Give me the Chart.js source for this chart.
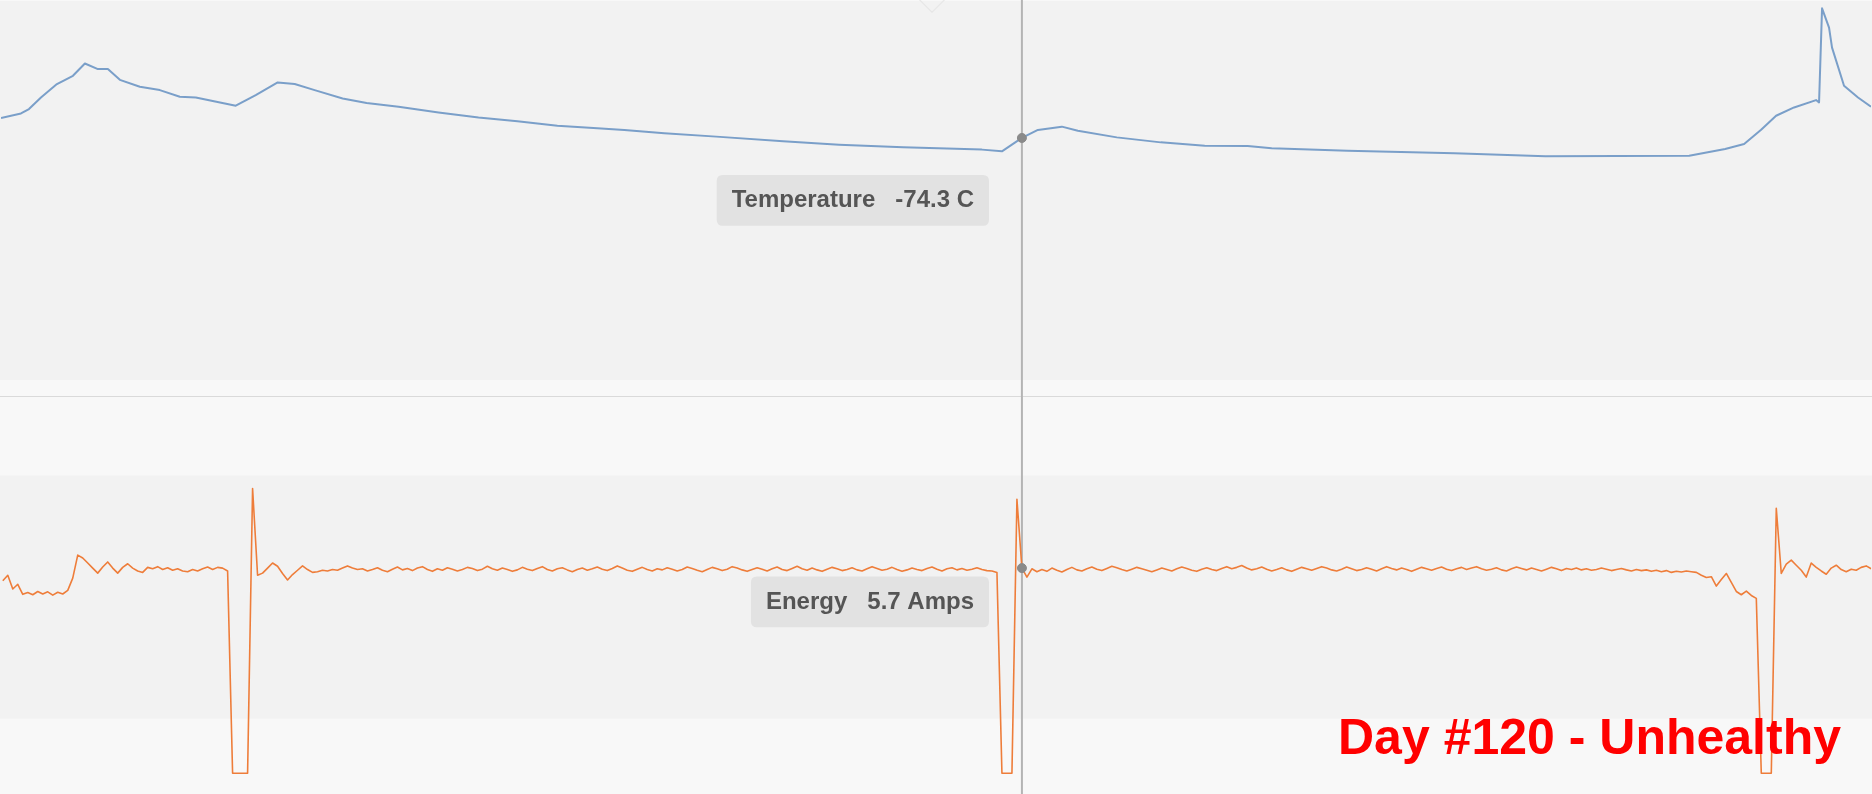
<!DOCTYPE html>
<html>
<head>
<meta charset="utf-8">
<title>Day #120 - Unhealthy</title>
<script src="https://cdn.jsdelivr.net/npm/chart.js@4.4.1/dist/chart.umd.min.js"></script>
<style>
    html, body { margin: 0; padding: 0; background: #f8f8f8; overflow: hidden; }
    #stage { position: relative; width: 1872px; height: 794px; }
    #tempCanvas { position: absolute; left: 0; top: 0; }
    #energyCanvas { position: absolute; left: 0; top: 397px; }
    .divider { position: absolute; left: 0; top: 396px; width: 1872px; height: 1px; background: #dadada; }
    .handle { position: absolute; left: 920px; top: -16px; width: 22px; height: 22px;
              border: 1px solid #e4e4e4; transform: rotate(45deg); }
    .verdict { position: absolute; right: 31px; top: 712px; color: #ff0000; white-space: nowrap;
               font: bold 50px/50px "Liberation Sans", Arial, sans-serif; }
</style>
</head>
<body>
<div id="stage">
    <div class="divider"></div>
    <canvas id="tempCanvas" width="1872" height="397"></canvas>
    <canvas id="energyCanvas" width="1872" height="397"></canvas>
    <div class="handle"></div>
    <div class="verdict">Day #120 - Unhealthy</div>
</div>
<script>
// Time (minutes into the window) where the cursor sits
const cursorTime = 1022;

// Temperature trace (C)
const tempTimes = [0, 20, 28, 40, 56, 72, 84, 97, 107, 119,
    139, 159, 179, 195, 235, 255, 277, 294, 314, 342,
    366, 398, 438, 478, 517, 557, 597, 624, 664, 716,
    783, 839, 903, 982, 1002, 1022, 1038, 1062, 1078, 1117,
    1161, 1205, 1248, 1272, 1348, 1455, 1546, 1690, 1726, 1745,
    1762, 1777, 1795, 1817, 1820, 1823, 1830, 1833, 1845, 1859,
    1872];
const tempValues = [-72.18, -71.70, -71.23, -70.00, -68.58, -67.70, -66.40, -66.99, -66.99, -68.13,
    -68.87, -69.22, -69.93, -70.00, -70.88, -69.75, -68.41, -68.58, -69.22, -70.11,
    -70.60, -70.99, -71.59, -72.12, -72.54, -73.00, -73.28, -73.45, -73.81, -74.16,
    -74.66, -75.01, -75.30, -75.54, -75.72, -74.30, -73.45, -73.10, -73.53, -74.24,
    -74.77, -75.12, -75.15, -75.40, -75.65, -75.93, -76.25, -76.18, -75.47, -74.94,
    -73.42, -71.94, -71.06, -70.28, -70.53, -60.54, -62.59, -64.71, -68.76, -70.00,
    -70.99];

// Energy trace (Amps), one reading every 5 minutes starting at minute 2
const energyStart = 2;
const energyStep = 5;
const energyAmps = [
    5.35, 5.50, 5.12, 5.25, 4.97, 5.02, 4.96, 5.05, 4.98, 5.04,
    4.95, 5.03, 4.98, 5.08, 5.42, 6.06, 5.98, 5.84, 5.70, 5.56,
    5.73, 5.87, 5.70, 5.56, 5.72, 5.82, 5.70, 5.62, 5.58, 5.72,
    5.68, 5.74, 5.66, 5.71, 5.64, 5.68, 5.62, 5.60, 5.66, 5.62,
    5.68, 5.73, 5.66, 5.72, 5.70, 5.62, 0, 0, 0, 0,
    7.91, 5.50, 5.56, 5.70, 5.84, 5.75, 5.55, 5.37, 5.52, 5.64,
    5.76, 5.66, 5.58, 5.60, 5.64, 5.62, 5.66, 5.64, 5.70, 5.76,
    5.70, 5.66,
    5.68, 5.62, 5.66, 5.71, 5.64, 5.60, 5.67, 5.73, 5.65, 5.69,
    5.63, 5.70, 5.74, 5.66, 5.61, 5.68, 5.64, 5.71, 5.67, 5.62,
    5.66, 5.72, 5.69, 5.63, 5.67, 5.75, 5.68, 5.64, 5.70, 5.66,
    5.61, 5.65, 5.72, 5.67, 5.63, 5.69, 5.74, 5.66, 5.62, 5.68,
    5.71, 5.65, 5.60, 5.66, 5.70, 5.64, 5.68, 5.73, 5.67, 5.63,
    5.69, 5.76, 5.70, 5.64, 5.61, 5.67, 5.72, 5.66, 5.62, 5.68,
    5.65, 5.71, 5.67, 5.62, 5.66, 5.73, 5.69, 5.64, 5.60, 5.66,
    5.72, 5.68, 5.63, 5.67, 5.74, 5.70, 5.65, 5.61, 5.66, 5.71,
    5.67, 5.62, 5.68, 5.73, 5.66, 5.63, 5.69, 5.75, 5.68, 5.64,
    5.70, 5.65, 5.61, 5.67, 5.72, 5.68, 5.63, 5.66, 5.71, 5.65,
    5.62, 5.68, 5.74, 5.69, 5.64, 5.67, 5.72, 5.66, 5.61, 5.65,
    5.70, 5.66, 5.63, 5.69, 5.73, 5.67, 5.62, 5.68, 5.71, 5.65,
    5.69, 5.64, 5.67, 5.71, 5.66, 5.63, 5.62,
    5.58, 0, 0, 0, 7.61, 5.70, 5.45, 5.68, 5.60,
    5.66, 5.61, 5.70, 5.64, 5.59, 5.66, 5.72, 5.65, 5.62, 5.68,
    5.73, 5.67, 5.63, 5.69, 5.75, 5.71, 5.66, 5.62, 5.67, 5.72,
    5.68, 5.64, 5.60, 5.65, 5.70, 5.66, 5.62, 5.68, 5.73, 5.69,
    5.64, 5.61, 5.67, 5.71, 5.66, 5.63, 5.69, 5.74, 5.68, 5.72,
    5.77, 5.70, 5.65, 5.68, 5.73, 5.67, 5.62, 5.66, 5.71, 5.65,
    5.61, 5.67, 5.72, 5.68, 5.64, 5.69, 5.74, 5.70, 5.65, 5.62,
    5.67, 5.73, 5.68, 5.63, 5.66, 5.71, 5.67, 5.62, 5.68, 5.74,
    5.69, 5.65, 5.70, 5.66, 5.61, 5.67, 5.72, 5.68, 5.64, 5.69,
    5.73, 5.67, 5.63, 5.68, 5.72, 5.66, 5.70, 5.74, 5.68, 5.64,
    5.67, 5.71, 5.65, 5.62, 5.68, 5.73, 5.69, 5.65, 5.70, 5.66,
    5.62, 5.67, 5.72, 5.68, 5.63, 5.69, 5.66, 5.70, 5.65, 5.68,
    5.64, 5.66, 5.70, 5.67, 5.63, 5.66, 5.69, 5.65, 5.62, 5.66,
    5.63, 5.65, 5.61, 5.64, 5.60, 5.63, 5.58, 5.61, 5.59, 5.62,
    5.60,
    5.58, 5.50, 5.44, 5.46, 5.20, 5.38, 5.55, 5.30, 5.05, 4.96,
    5.06, 4.94, 4.86, 0, 0, 0, 7.36,
    5.55, 5.81, 5.92, 5.78, 5.64, 5.45, 5.84, 5.72, 5.62, 5.53,
    5.70, 5.78, 5.66, 5.60, 5.67, 5.64, 5.72, 5.76, 5.68
];

// Offsets of each tooltip box from its cursor point
const tipShift = {
    tempCanvas: { dx: -33, dy: 63 },
    energyCanvas: { dx: -33, dy: 34 }
};

/**
 * Fill the chart area (or a value band) with the panel grey
 */
const backdropPlugin = {
    id: 'backdrop',
    beforeDraw(chart, args, opts) {
        const { ctx, chartArea, scales } = chart;
        let top = chartArea.top;
        let bottom = chartArea.bottom;
        if (opts.from !== undefined) {
            top = scales.y.getPixelForValue(opts.to);
            bottom = scales.y.getPixelForValue(opts.from);
        }
        ctx.save();
        ctx.fillStyle = opts.color;
        ctx.fillRect(0, top, chart.width, bottom - top);
        ctx.restore();
    }
};

/**
 * Vertical cursor line through the whole canvas
 */
const crosshairPlugin = {
    id: 'crosshair',
    beforeDatasetsDraw(chart) {
        const x = chart.scales.x.getPixelForValue(cursorTime);
        const ctx = chart.ctx;
        ctx.save();
        ctx.strokeStyle = '#b4b4b4';
        ctx.lineWidth = 2;
        ctx.beginPath();
        ctx.moveTo(x, 0);
        ctx.lineTo(x, chart.height);
        ctx.stroke();
        ctx.restore();
    }
};

Chart.Tooltip.positioners.besideCursor = function(items) {
    if (!items.length) return false;
    const el = items[0].element;
    const shift = tipShift[this.chart.canvas.id];
    return { x: el.x + shift.dx, y: el.y + shift.dy };
};

/**
 * Shared options for one strip chart
 */
function stripOptions(yMin, yMax, padBottom, backdrop) {
    return {
        responsive: false,
        animation: false,
        events: [],
        devicePixelRatio: 1,
        layout: { padding: { left: 0, right: 0, top: 0, bottom: padBottom } },
        scales: {
            x: { type: 'linear', min: 0, max: 1872, display: false },
            y: { min: yMin, max: yMax, display: false }
        },
        plugins: {
            legend: { display: false },
            backdrop: backdrop,
            tooltip: {
                position: 'besideCursor',
                xAlign: 'right',
                yAlign: 'center',
                displayColors: false,
                backgroundColor: '#e2e2e2',
                bodyColor: '#555555',
                bodyFont: { family: 'Liberation Sans', size: 24, weight: 'bold' },
                padding: { x: 15, y: 11 },
                caretSize: 0,
                caretPadding: 0,
                cornerRadius: 6,
                callbacks: {
                    title: () => '',
                    label: ctx => `${ctx.dataset.label}   ${ctx.parsed.y.toFixed(1)} ${ctx.dataset.unit}`
                }
            }
        }
    };
}

function lineDataset(label, unit, points, color, width) {
    return {
        label: label,
        unit: unit,
        data: points,
        borderColor: color,
        borderWidth: width,
        borderJoinStyle: 'round',
        tension: 0,
        pointRadius: 0,
        pointHoverRadius: 4.5,
        pointHoverBackgroundColor: '#8a8a8a',
        pointHoverBorderColor: '#8a8a8a',
        pointHoverBorderWidth: 1
    };
}

function showCursor(chart, index) {
    const active = [{ datasetIndex: 0, index: index }];
    chart.setActiveElements(active);
    chart.tooltip.setActiveElements(active, { x: 0, y: 0 });
    chart.update('none');
}

// Temperature strip
const tempPoints = tempTimes.map((t, i) => ({ x: t, y: tempValues[i] }));
const tempChart = new Chart(document.getElementById('tempCanvas'), {
    type: 'line',
    data: { datasets: [lineDataset('Temperature', 'C', tempPoints, '#7a9fc9', 2)] },
    options: stripOptions(-100, -59.76, 17, { color: '#f2f2f2' }),
    plugins: [backdropPlugin, crosshairPlugin]
});

// Energy strip
const energyPoints = energyAmps.map((a, i) => ({ x: energyStart + i * energyStep, y: a }));
const energyChart = new Chart(document.getElementById('energyCanvas'), {
    type: 'line',
    data: { datasets: [lineDataset('Energy', 'Amps', energyPoints, '#ee7d3a', 1.6)] },
    options: stripOptions(-0.553, 10.43, 0, { color: '#f2f2f2', from: 1.52, to: 8.27 }),
    plugins: [backdropPlugin, crosshairPlugin]
});

showCursor(tempChart, tempTimes.indexOf(cursorTime));
showCursor(energyChart, (cursorTime - energyStart) / energyStep);
</script>
</body>
</html>
